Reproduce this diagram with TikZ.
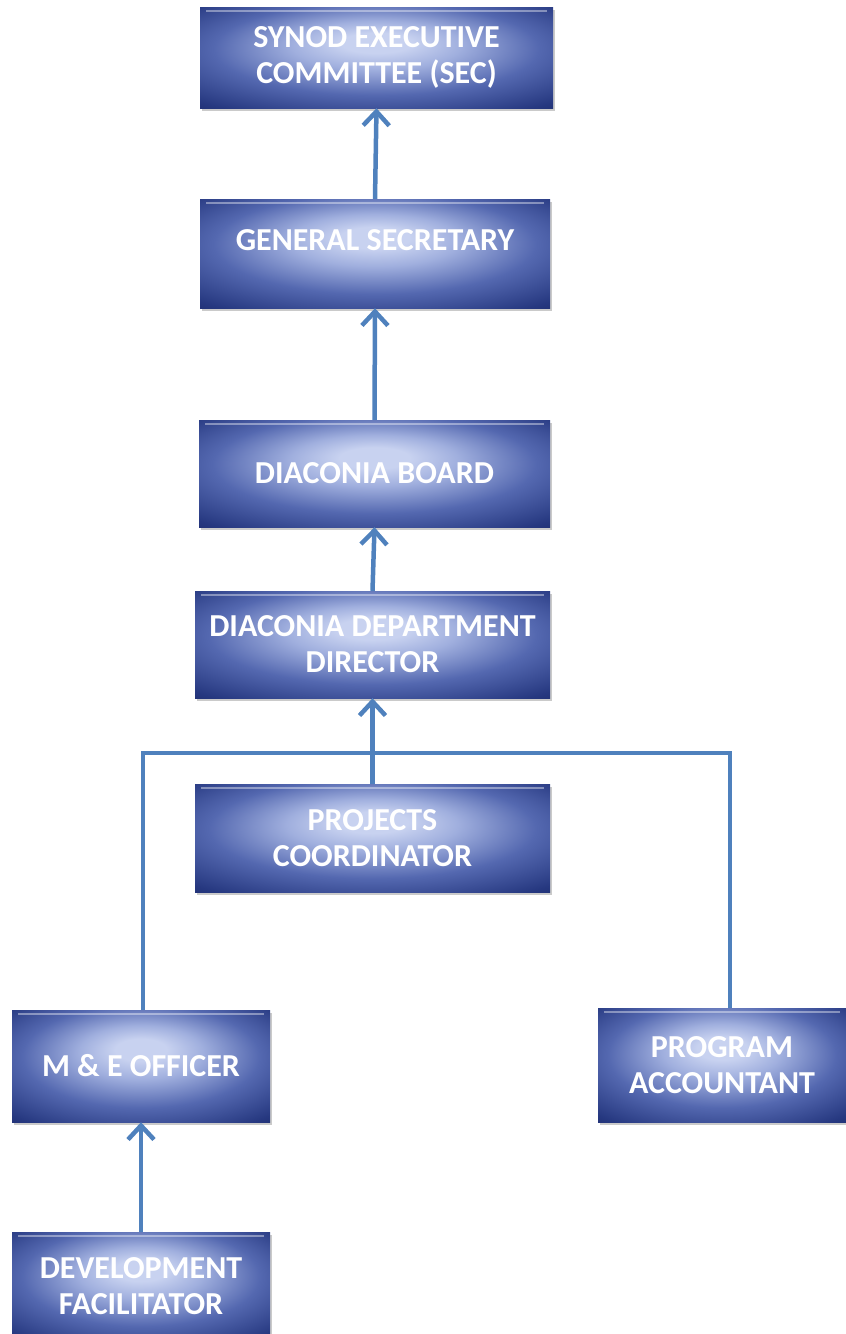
\documentclass[tikz,border=0pt]{standalone}
\usepackage{fontspec}
\setmainfont{Carlito}
\usepackage{tikz}
\usetikzlibrary{arrows.meta,shadows}
\definecolor{boxdark}{RGB}{22,34,92}
\definecolor{boxdeep}{RGB}{38,56,128}
\definecolor{boxmid}{RGB}{84,104,176}
\definecolor{boxsoft}{RGB}{160,175,222}
\definecolor{boxlight}{RGB}{200,210,240}
\definecolor{linkblue}{RGB}{79,129,189}
\pgfdeclareradialshading{boxglow}{\pgfpoint{0bp}{8bp}}{%
  color(0bp)=(boxlight); color(5bp)=(boxlight); color(12bp)=(boxsoft);
  color(23bp)=(boxmid); color(35bp)=(boxdeep); color(44bp)=(boxdark);
  color(50bp)=(boxdark)}
\tikzset{
  post/.style={rectangle, shading=boxglow, text=white, align=center,
    font=\fontsize{32}{36}\selectfont\bfseries, inner sep=0pt,
    drop shadow={shadow xshift=2pt, shadow yshift=-3pt, opacity=0.35, fill=black!60},
    path picture={\draw[white, opacity=0.4, line width=2pt]
      ([xshift=6pt,yshift=-4pt]path picture bounding box.north west) --
      ([xshift=-6pt,yshift=-4pt]path picture bounding box.north east);}},
  link/.style={draw=linkblue, line width=4.5pt},
  upArrow/.style={link, -{Straight Barb[length=14pt, width=26pt, line width=4.5pt]}}
}

\begin{document}
\begin{tikzpicture}[x=1pt, y=-1pt]
  \useasboundingbox (0,0) rectangle (846,1334);

  % chain of offices
  \node[post, minimum width=353pt, minimum height=101pt] (sec) at (376.5,57.5)
    {SYNOD EXECUTIVE\\COMMITTEE (SEC)};
  \node[post, minimum width=350pt, minimum height=109pt] (gs) at (375,253.5)
    {\raisebox{3.5pt}[0pt][0pt]{GENERAL SECRETARY}};
  \node[post, minimum width=351pt, minimum height=107pt] (db) at (374.5,473.5)
    {DIACONIA BOARD};
  \node[post, minimum width=355pt, minimum height=107pt] (ddd) at (372.5,644.5)
    {DIACONIA DEPARTMENT\\DIRECTOR};
  \node[post, minimum width=355pt, minimum height=108pt] (pc) at (372.5,838)
    {PROJECTS\\COORDINATOR};

  % field staff
  \node[post, minimum width=258pt, minimum height=112pt] (me) at (141,1066)
    {M \& E OFFICER};
  \node[post, minimum width=248pt, minimum height=114pt] (pa) at (722,1065)
    {PROGRAM\\ACCOUNTANT};
  \node[post, minimum width=258pt, minimum height=108pt] (df) at (141,1286)
    {DEVELOPMENT\\FACILITATOR};

  \coordinate (bus) at (375,753);

  \draw[upArrow] (gs.north) -- (sec.south);
  \draw[upArrow] (db.north) -- (gs.south);
  \draw[upArrow] (ddd.north) -- (db.south);
  \draw[upArrow] (pc.north) -- (ddd.south);
  \draw[link] ([xshift=2pt]me.north) -- ([xshift=2pt]me.north |- bus)
    -- ([xshift=8pt]pa.north |- bus) -- ([xshift=8pt]pa.north);
  \draw[upArrow] (df.north) -- (me.south);
\end{tikzpicture}
\end{document}
